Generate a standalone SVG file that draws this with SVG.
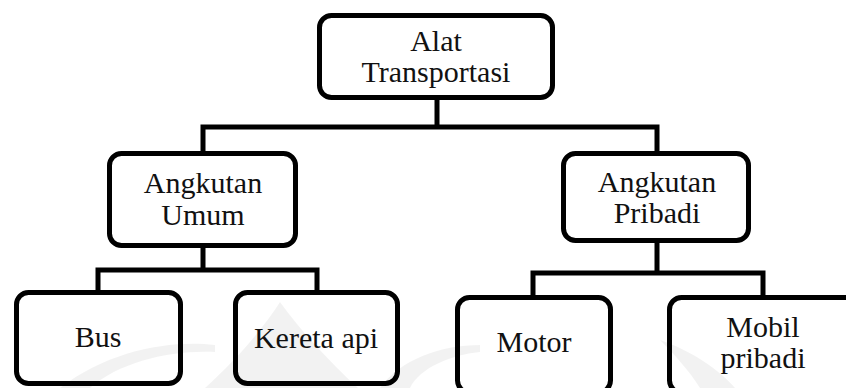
<svg xmlns="http://www.w3.org/2000/svg" width="846" height="388" viewBox="0 0 846 388">
<style>
.box{fill:none;stroke:#000;stroke-width:5}
.con{fill:none;stroke:#000;stroke-width:5;stroke-linejoin:miter;stroke-linecap:butt}
text{font-family:"Liberation Serif","Times New Roman",serif;font-size:30px;fill:#111;text-anchor:middle}
.wm{fill:#000;opacity:0.05}
</style>
<rect width="846" height="388" fill="#fff"/>
<g id="watermark">
<path class="wm" d="M280 302 C262 330 236 360 205 388 L358 388 C328 360 300 330 280 302 Z"/>
<path class="wm" d="M60 388 C110 350 170 340 215 345 L215 352 C170 350 120 362 90 388 Z"/>
<path class="wm" d="M660 340 C690 350 720 370 735 388 L700 388 C690 372 675 355 660 340 Z"/>
<path class="wm" d="M380 388 C400 360 440 345 480 345 L480 352 C450 355 420 368 410 388 Z"/>
</g>
<g id="connectors">
<path class="con" d="M437 98 V127 M203 151 V127 H657 V151"/>
<path class="con" d="M203 246 V270 M98 290 V270 H317 V290"/>
<path class="con" d="M657 241 V273 M533 295 V273 H763 V295"/>
</g>
<g id="n-alat">
<rect class="box" x="319.5" y="15.5" width="233" height="82" rx="12"/>
<text x="436" y="51">Alat</text>
<text x="436" y="82">Transportasi</text>
</g>
<g id="n-umum">
<rect class="box" x="109.5" y="153.5" width="186" height="92" rx="12"/>
<text x="203" y="193">Angkutan</text>
<text x="203" y="225">Umum</text>
</g>
<g id="n-pribadi">
<rect class="box" x="563.5" y="153.5" width="185" height="87" rx="12"/>
<text x="657" y="192">Angkutan</text>
<text x="657" y="223">Pribadi</text>
</g>
<g id="n-bus">
<rect class="box" x="16.5" y="292.5" width="164" height="91" rx="12"/>
<text x="98" y="347">Bus</text>
</g>
<g id="n-kereta">
<rect class="box" x="235.5" y="292.5" width="162" height="91" rx="12"/>
<text x="316" y="348">Kereta api</text>
</g>
<g id="n-motor">
<rect class="box" x="457.5" y="297.5" width="153" height="95" rx="12"/>
<text x="534" y="352">Motor</text>
</g>
<g id="n-mobil">
<rect class="box" x="669.5" y="297.5" width="190" height="95" rx="12"/>
<text x="763" y="337">Mobil</text>
<text x="763" y="368">pribadi</text>
</g>
</svg>
